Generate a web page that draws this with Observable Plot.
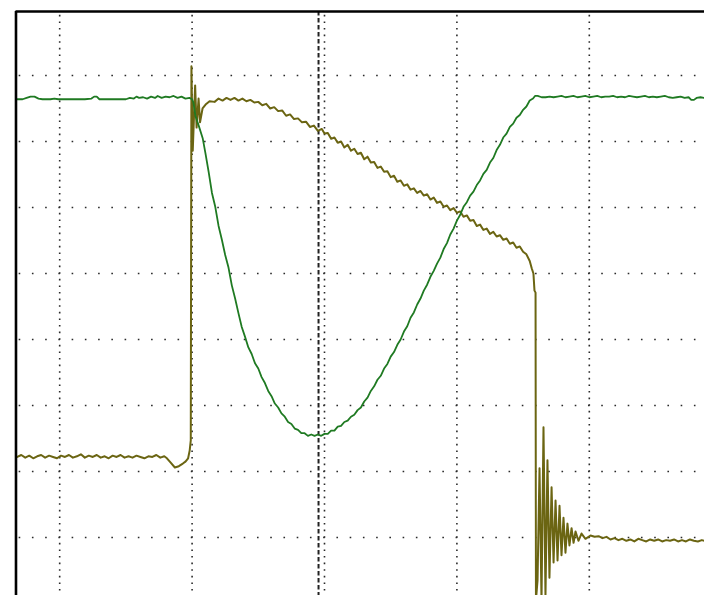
<!DOCTYPE html>
<html>
<head>
<meta charset="utf-8">
<script src="https://cdn.jsdelivr.net/npm/d3@7"></script>
<script src="https://cdn.jsdelivr.net/npm/@observablehq/plot@0.6"></script>
<style>
  html, body { margin: 0; padding: 0; background: #fff; }
  #chart { width: 704px; height: 595px; overflow: hidden; }
  #chart svg { display: block; }
</style>
</head>
<body>
<div id="chart"></div>
<script>
// Time in divisions (0 = centre graticule line), voltage in divisions (0 = lowest visible graticule line)
const greenTime = [
  -2.32,-2.28,-2.25,-2.22,-2.19,-2.16,-2.13,-2.10,-2.07,-2.04,-2.01,-1.96,-1.91,-1.86,-1.81,-1.76,-1.74,-1.72,-1.70,-1.65,
  -1.60,-1.55,-1.50,-1.47,-1.44,-1.42,-1.40,-1.37,-1.34,-1.31,-1.28,-1.26,-1.23,-1.20,-1.17,-1.14,-1.11,-1.08,-1.05,-1.02,
  -1.00,-0.99,-0.975,-0.95,-0.92,-0.90,-0.875,-0.85,-0.825,-0.80,-0.775,-0.75,-0.725,-0.70,-0.675,-0.65,-0.625,-0.60,-0.575,-0.55,
  -0.525,-0.50,-0.475,-0.45,-0.425,-0.40,-0.375,-0.35,-0.325,-0.30,-0.275,-0.25,-0.225,-0.20,-0.175,-0.15,-0.125,-0.10,-0.075,-0.05,
  -0.025,0,0.025,0.05,0.075,0.10,0.125,0.15,0.175,0.20,0.225,0.25,0.275,0.30,0.325,0.35,0.375,0.40,0.425,0.45,
  0.475,0.50,0.525,0.55,0.575,0.60,0.625,0.65,0.675,0.70,0.725,0.75,0.775,0.80,0.825,0.85,0.875,0.90,0.925,0.95,
  0.975,1.00,1.025,1.05,1.075,1.10,1.125,1.15,1.175,1.20,1.225,1.25,1.275,1.30,1.325,1.35,1.375,1.40,1.425,1.45,
  1.475,1.50,1.525,1.55,1.575,1.59,1.61,1.64,1.67,1.70,1.73,1.76,1.79,1.82,1.85,1.88,1.91,1.94,1.97,2.00,
  2.03,2.06,2.09,2.12,2.15,2.18,2.21,2.24,2.27,2.30,2.33,2.36,2.39,2.42,2.45,2.48,2.51,2.54,2.57,2.60,
  2.63,2.66,2.69,2.72,2.75,2.77,2.79,2.81,2.84,2.87
];
const greenVolt = [
  6.64,6.64,6.66,6.68,6.68,6.65,6.64,6.64,6.64,6.65,6.64,6.64,6.64,6.64,6.64,6.65,6.68,6.68,6.64,6.64,
  6.64,6.64,6.64,6.66,6.65,6.68,6.66,6.67,6.65,6.68,6.66,6.69,6.66,6.68,6.67,6.69,6.66,6.68,6.65,6.66,
  6.64,6.59,6.39,6.24,6.05,5.83,5.54,5.22,5.01,4.72,4.51,4.28,4.09,3.82,3.62,3.40,3.19,3.04,2.88,2.78,
  2.64,2.56,2.43,2.34,2.22,2.14,2.03,1.97,1.88,1.83,1.75,1.72,1.65,1.63,1.58,1.58,1.54,1.56,1.54,1.56,
  1.54,1.57,1.57,1.62,1.62,1.68,1.69,1.75,1.77,1.83,1.86,1.93,1.97,2.06,2.12,2.22,2.29,2.39,2.45,2.56,
  2.63,2.74,2.81,2.92,3.00,3.12,3.20,3.33,3.41,3.53,3.62,3.74,3.83,3.95,4.04,4.15,4.24,4.37,4.46,4.59,
  4.68,4.80,4.89,5.01,5.08,5.18,5.24,5.34,5.41,5.51,5.57,5.68,5.75,5.87,5.95,6.06,6.12,6.22,6.27,6.36,
  6.40,6.48,6.53,6.62,6.65,6.69,6.69,6.67,6.67,6.68,6.67,6.68,6.69,6.67,6.68,6.69,6.67,6.68,6.69,6.67,
  6.68,6.69,6.67,6.68,6.68,6.69,6.67,6.68,6.67,6.69,6.68,6.67,6.68,6.69,6.67,6.68,6.67,6.68,6.69,6.67,
  6.66,6.67,6.68,6.66,6.67,6.63,6.63,6.66,6.67,6.66
];

const oliveTime = [
  -2.32,-2.29,-2.26,-2.23,-2.20,-2.17,-2.14,-2.11,-2.08,-2.05,-2.02,-1.99,-1.96,-1.93,-1.90,-1.87,-1.84,-1.81,-1.78,-1.75,
  -1.72,-1.69,-1.66,-1.63,-1.60,-1.57,-1.54,-1.51,-1.48,-1.45,-1.42,-1.39,-1.36,-1.33,-1.30,-1.27,-1.24,-1.21,-1.19,-1.16,
  -1.13,-1.10,-1.07,-1.05,-1.03,-1.018,-1.010,-1.005,-0.995,-0.977,-0.966,-0.951,-0.940,-0.921,-0.898,-0.868,-0.83,-0.80,-0.77,-0.74,
  -0.71,-0.68,-0.65,-0.62,-0.59,-0.56,-0.53,-0.50,-0.47,-0.44,-0.41,-0.38,-0.35,-0.32,-0.29,-0.26,-0.23,-0.20,-0.17,-0.14,
  -0.11,-0.08,-0.05,-0.02,0,0.025,0.05,0.075,0.10,0.125,0.15,0.175,0.20,0.225,0.25,0.275,0.30,0.325,0.35,0.375,
  0.40,0.425,0.45,0.475,0.50,0.525,0.55,0.575,0.60,0.625,0.65,0.675,0.70,0.725,0.75,0.775,0.80,0.825,0.85,0.875,
  0.90,0.925,0.95,0.975,1.00,1.025,1.05,1.075,1.10,1.125,1.15,1.175,1.20,1.225,1.25,1.275,1.30,1.325,1.35,1.375,
  1.40,1.425,1.45,1.475,1.50,1.525,1.55,1.565,1.578,1.586,1.594,1.597,1.609,1.624,1.639,1.654,1.669,1.684,1.699,1.715,
  1.730,1.745,1.760,1.775,1.790,1.805,1.820,1.835,1.850,1.866,1.881,1.896,1.918,1.941,1.971,2.009,2.04,2.07,2.10,2.13,
  2.16,2.19,2.22,2.25,2.28,2.31,2.34,2.37,2.40,2.43,2.46,2.49,2.52,2.55,2.58,2.61,2.64,2.67,2.70,2.73,
  2.76,2.79,2.82,2.85,2.87
];
const oliveVolt = [
  1.22,1.25,1.21,1.24,1.20,1.23,1.25,1.21,1.24,1.22,1.20,1.24,1.22,1.25,1.21,1.23,1.26,1.21,1.24,1.22,
  1.25,1.21,1.23,1.20,1.24,1.22,1.25,1.21,1.23,1.21,1.24,1.22,1.20,1.23,1.22,1.25,1.21,1.23,1.20,1.13,
  1.06,1.08,1.12,1.15,1.20,1.32,1.47,7.14,5.86,6.85,6.21,6.65,6.29,6.50,6.56,6.61,6.60,6.65,6.62,6.66,
  6.63,6.66,6.62,6.65,6.61,6.63,6.59,6.60,6.55,6.57,6.50,6.52,6.46,6.47,6.39,6.41,6.34,6.35,6.29,6.30,
  6.22,6.24,6.16,6.19,6.12,6.13,6.04,6.06,5.98,6.00,5.91,5.95,5.86,5.89,5.81,5.83,5.73,5.77,5.68,5.69,
  5.60,5.62,5.54,5.55,5.46,5.48,5.39,5.41,5.33,5.35,5.27,5.29,5.22,5.25,5.18,5.20,5.12,5.15,5.07,5.09,
  5.01,5.03,4.96,4.99,4.92,4.94,4.86,4.88,4.80,4.81,4.72,4.74,4.66,4.68,4.60,4.63,4.56,4.58,4.51,4.53,
  4.45,4.47,4.39,4.41,4.33,4.29,4.19,4.08,4.00,3.74,3.71,-0.95,-0.65,1.05,-0.95,1.67,-0.89,1.17,-0.61,0.76,
  -0.38,0.56,-0.35,0.48,-0.27,0.30,-0.23,0.21,-0.12,0.14,-0.08,0.09,-0.05,0.06,-0.02,0.03,0.01,0.02,-0.01,0.01,
  -0.03,-0.01,-0.04,-0.02,-0.05,-0.03,-0.06,-0.02,-0.04,-0.06,-0.03,-0.05,-0.03,-0.06,-0.04,-0.05,-0.03,-0.06,-0.04,-0.06,
  -0.03,-0.05,-0.06,-0.04,-0.05
];

const gridTimes = [-2, -1, 0, 1, 2];
const gridVolts = [0, 1, 2, 3, 4, 5, 6, 7];
const cursorTimes = [-0.045];
const frameLeft = -2.33;
const frameTop = 7.97;
const xDomain = [-2.447, 2.870];
const yDomain = [-0.879, 8.136];

const green = greenTime.map((t, i) => ({t, v: greenVolt[i]}));
const olive = oliveTime.map((t, i) => ({t, v: oliveVolt[i]}));

const chart = Plot.plot({
  width: 704,
  height: 595,
  margin: 0,
  x: {domain: xDomain, axis: null},
  y: {domain: yDomain, axis: null},
  style: {background: "#fff", overflow: "hidden"},
  marks: [
    Plot.ruleY(gridVolts, {
      y: d => d, x1: () => frameLeft, x2: () => xDomain[1],
      stroke: "#2a2a2a", strokeWidth: 1.6, strokeDasharray: "1.6,11.64", strokeDashoffset: -3.17
    }),
    Plot.ruleX(gridTimes, {
      x: d => d, y1: () => frameTop, y2: () => yDomain[0],
      stroke: "#2a2a2a", strokeWidth: 1.6, strokeDasharray: "1.6,5.0", strokeDashoffset: -3.82
    }),
    Plot.ruleX(cursorTimes, {
      x: d => d, y1: () => frameTop, y2: () => yDomain[0],
      stroke: "#222", strokeWidth: 2, strokeDasharray: "4.5,2.5"
    }),
    Plot.line(olive, {x: "t", y: "v", stroke: "#6b6512", strokeWidth: 2, clip: true}),
    Plot.line(green, {x: "t", y: "v", stroke: "#1f7a22", strokeWidth: 1.8, clip: true}),
    Plot.ruleY([frameTop], {y: d => d, x1: () => frameLeft, x2: () => xDomain[1], stroke: "#000", strokeWidth: 2.6}),
    Plot.ruleX([frameLeft], {x: d => d, y1: () => frameTop, y2: () => yDomain[0], stroke: "#000", strokeWidth: 2.6})
  ]
});
document.getElementById("chart").appendChild(chart);
</script>
</body>
</html>
